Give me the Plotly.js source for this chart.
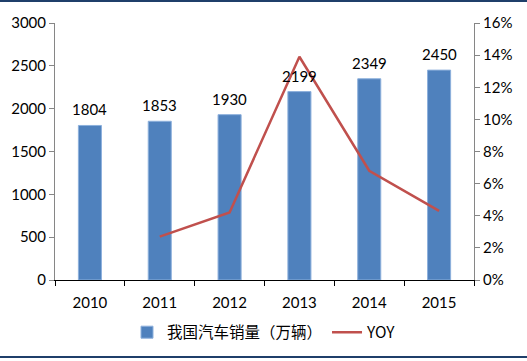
<!DOCTYPE html>
<html>
<head>
<meta charset="utf-8">
<script src="https://cdn.plot.ly/plotly-3.0.1.min.js"></script>
<style>
html,body{margin:0;padding:0;background:#fff;}
#wrap{position:relative;width:527px;height:361px;}
#chart{width:527px;height:361px;}
.bline{position:absolute;left:0;width:527px;height:2px;background:#1F3F6A;}
</style>
</head>
<body>
<div id="wrap">
<div id="chart"></div>
<div class="bline" style="top:0px"></div>
<div class="bline" style="top:356px"></div>
</div>
<script>
const years = ['2010','2011','2012','2013','2014','2015'];
const sales = [1804, 1853, 1930, 2199, 2349, 2450];
const yoyYears = ['2011','2012','2013','2014','2015'];
const yoy = [0.027, 0.042, 0.139, 0.068, 0.043];

const font = "Lato, 'Open Sans', sans-serif";

const traces = [
  {
    type: 'bar', x: years, y: sales, name: '我国汽车销量（万辆）',
    marker: {color: '#4F81BD', line: {color: '#8DB0DC', width: 1}},
    width: 0.33
  },
  {
    type: 'scatter', mode: 'lines', x: yoyYears, y: yoy, name: 'YOY', yaxis: 'y2',
    line: {color: '#C0504D', width: 2.5}
  }
];

const annotations = years.map((yr, i) => ({
  x: years.indexOf(yr), y: sales[i], xref: 'x', yref: 'y', text: String(sales[i]),
  showarrow: false, yanchor: 'bottom', yshift: 5,
  font: {family: font, size: 15, color: '#000'}
}));

const layout = {
  width: 527, height: 361,
  margin: {l: 55, r: 53, t: 23, b: 80},
  paper_bgcolor: '#fff', plot_bgcolor: '#fff',
  showlegend: true,
  legend: {orientation: 'h', x: 0.5, xanchor: 'center', y: -0.2, yanchor: 'middle',
    itemwidth: 30,
    font: {family: "'Noto Sans CJK SC', " + font, size: 15.5, color: '#000'}, traceorder: 'normal'},
  xaxis: {
    type: 'category', categoryorder: 'array', categoryarray: years,
    range: [-0.5, years.length - 0.5], autorange: false,
    showline: true, linecolor: '#000', linewidth: 1,
    ticks: 'outside', tickson: 'boundaries', ticklen: 5, tickcolor: '#000',
    ticklabelstandoff: 9,
    tickfont: {family: font, size: 15, color: '#000'}, showgrid: false
  },
  yaxis: {
    range: [0, 3000], dtick: 500, showline: true, linecolor: '#868686', linewidth: 1,
    ticks: 'outside', ticklen: 5, tickcolor: '#868686', showgrid: false, zeroline: false,
    tickfont: {family: font, size: 15, color: '#000'}
  },
  yaxis2: {
    overlaying: 'y', side: 'right', range: [0, 0.16], dtick: 0.02, tickformat: '.0%',
    showline: true, linecolor: '#868686', linewidth: 1, ticks: 'outside', ticklen: 5,
    tickcolor: '#868686', showgrid: false, zeroline: false,
    tickfont: {family: font, size: 15, color: '#000'}
  },
  annotations: annotations,
  font: {family: font}
};

Plotly.newPlot('chart', traces, layout, {displayModeBar: false, staticPlot: true});
</script>
</body>
</html>
